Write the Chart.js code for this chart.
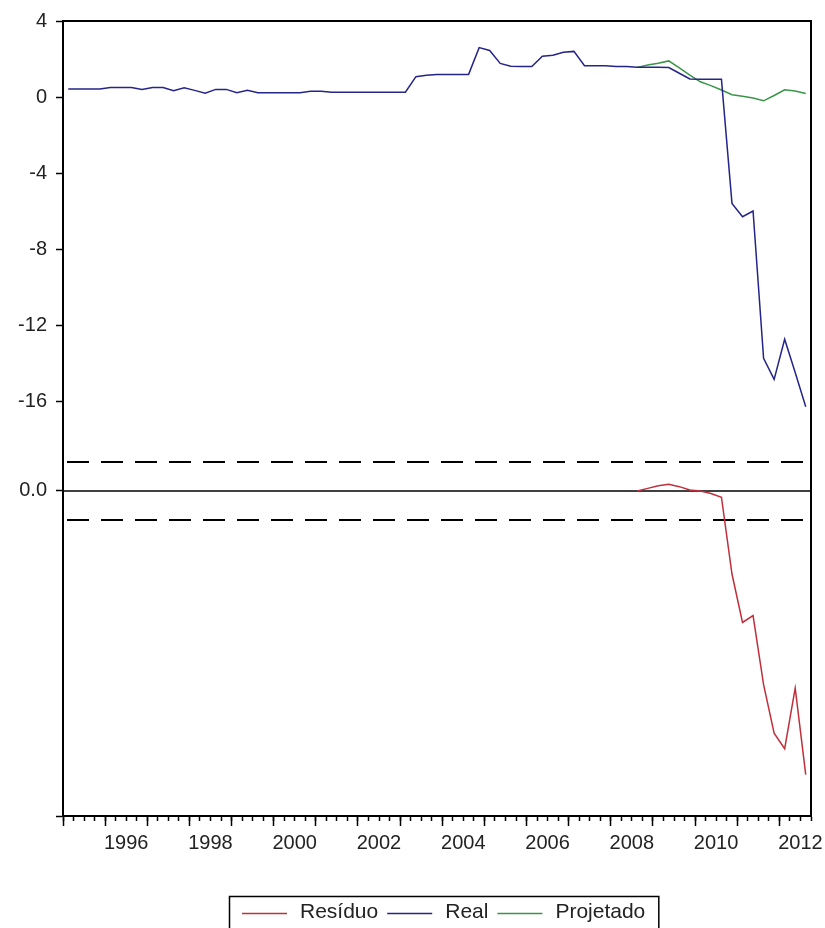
<!DOCTYPE html>
<html>
<head>
<meta charset="utf-8">
<title>Resíduo, Real e Projetado</title>
<script src="https://cdn.jsdelivr.net/npm/chart.js@4.4.1/dist/chart.umd.min.js"></script>
<style>
  html, body { margin: 0; padding: 0; background: #fff; }
  #wrap { position: relative; width: 825px; height: 928px; }
</style>
</head>
<body>
<div id="wrap"><canvas id="chart"></canvas></div>
<script>
// Quarterly data, 1995Q1 .. 2012Q3
const firstYear = 1995;

const realValues = [
    0.42, 0.42, 0.42, 0.42,  0.50, 0.50, 0.50, 0.40,    // 1995-1996
    0.50, 0.50, 0.33, 0.48,  0.35, 0.20, 0.40, 0.40,    // 1997-1998
    0.23, 0.35, 0.23, 0.23,  0.23, 0.23, 0.23, 0.30,    // 1999-2000
    0.30, 0.25, 0.25, 0.25,  0.25, 0.25, 0.25, 0.25,    // 2001-2002
    0.25, 1.07, 1.15, 1.19,  1.19, 1.19, 1.19, 2.60,    // 2003-2004
    2.45, 1.77, 1.62, 1.60,  1.60, 2.15, 2.20, 2.35,    // 2005-2006
    2.40, 1.65, 1.65, 1.65,  1.60, 1.60, 1.56, 1.56,    // 2007-2008
    1.56, 1.55, 1.25, 0.95,  0.93, 0.93, 0.93, -5.60,   // 2009-2010
    -6.30, -6.00, -13.75, -14.86,  -12.75, -14.50, -16.30 // 2011-2012Q3
];

// forecast and residual start in 2008Q3
const projStart = '2008Q3';
const projValues = [
    1.56, 1.68, 1.78, 1.90, 1.53, 1.15, 0.80, 0.60, 0.37,
    0.12, 0.04, -0.05, -0.20, 0.08, 0.38, 0.32, 0.18
];
const residValues = [
    0.00, 0.15, 0.30, 0.39, 0.25, 0.06, 0.00, -0.15, -0.36,
    -4.80, -7.60, -7.20, -11.20, -14.00, -14.90, -11.40, -16.40
];
const residStdErr = 1.68;

const realTicks = [4, 0, -4, -8, -12, -16];
const residTicks = [0];
const yearLabels = ['1996', '1998', '2000', '2002', '2004', '2006', '2008', '2010', '2012'];

const realRange = [-37.84, 4];
const residRange = [-18.79, 27.17];

const nQuarters = realValues.length;
const quarterIndex = label => (parseInt(label.slice(0, 4)) - firstYear) * 4 + parseInt(label.slice(5)) - 1;
const toPoints = (values, start) => values.map((v, i) => ({ x: start + i + 0.5, y: v }));
const projFirst = quarterIndex(projStart);

const fontFamily = "'Liberation Sans', Arial, Helvetica, sans-serif";
Chart.defaults.font.family = fontFamily;
Chart.defaults.color = '#222';

const axisBorder = { display: true, color: '#000', width: 2 };

// the residual axis has no width of its own; let its "0.0" label use the left margin
const residLabelArea = {
    id: 'residLabelArea',
    afterLayout(chart) {
        chart.scales.yr.left = 0;
    }
};

// box around the plot area
const framePlugin = {
    id: 'frame',
    afterDatasetsDraw(chart) {
        const { ctx, chartArea: a } = chart;
        ctx.save();
        ctx.strokeStyle = '#000';
        ctx.lineWidth = 2;
        ctx.strokeRect(a.left, a.top, a.right - a.left, a.bottom - a.top);
        ctx.restore();
    }
};

// EViews style legend: one row inside a box
const boxLegendPlugin = {
    id: 'boxLegend',
    afterDraw(chart) {
        const { ctx } = chart;
        const items = chart.data.datasets.filter(d => !d.legendHidden);
        const lineLen = 45, gapText = 13, gapItem = 9, padX = 13;
        const centerX = 444, top = 896, midY = 912;

        ctx.save();
        ctx.font = `21px ${fontFamily}`;
        const widths = items.map(d => ctx.measureText(d.label).width);
        const inner = widths.reduce((s, w) => s + lineLen + gapText + w, 0) + gapItem * (items.length - 1);
        const boxW = inner + padX * 2;
        const left = Math.round(centerX - boxW / 2);

        ctx.strokeStyle = '#000';
        ctx.lineWidth = 1.5;
        ctx.strokeRect(left + 0.5, top + 0.5, boxW, 60);

        let x = left + padX;
        items.forEach((d, i) => {
            ctx.strokeStyle = d.borderColor;
            ctx.lineWidth = 1.5;
            ctx.beginPath();
            ctx.moveTo(x, midY + 1.5);
            ctx.lineTo(x + lineLen, midY + 1.5);
            ctx.stroke();
            x += lineLen + gapText;
            ctx.fillStyle = '#222';
            ctx.textBaseline = 'middle';
            ctx.textAlign = 'left';
            ctx.fillText(d.label, x, midY);
            x += widths[i] + gapItem;
        });
        ctx.restore();
    }
};

new Chart(document.getElementById('chart'), {
    type: 'line',
    data: {
        datasets: [
            {
                label: 'Resíduo',
                yAxisID: 'yr',
                data: toPoints(residValues, projFirst),
                borderColor: '#c0303c',
                borderWidth: 1.5,
                pointRadius: 0
            },
            {
                label: 'Real',
                yAxisID: 'y',
                data: toPoints(realValues, 0),
                borderColor: '#24248a',
                borderWidth: 1.5,
                pointRadius: 0
            },
            {
                label: 'Projetado',
                yAxisID: 'y',
                data: toPoints(projValues, projFirst),
                borderColor: '#3a9646',
                borderWidth: 1.5,
                pointRadius: 0
            },
            {
                label: 'zero',
                legendHidden: true,
                yAxisID: 'yr',
                data: [{ x: 0, y: 0 }, { x: nQuarters, y: 0 }],
                borderColor: '#000',
                borderWidth: 1.5,
                pointRadius: 0
            },
            {
                label: '+se',
                legendHidden: true,
                yAxisID: 'yr',
                data: [{ x: 0, y: residStdErr }, { x: nQuarters, y: residStdErr }],
                borderColor: '#000',
                borderWidth: 2,
                borderDash: [22, 12],
                borderDashOffset: -4,
                pointRadius: 0
            },
            {
                label: '-se',
                legendHidden: true,
                yAxisID: 'yr',
                data: [{ x: 0, y: -residStdErr }, { x: nQuarters, y: -residStdErr }],
                borderColor: '#000',
                borderWidth: 2,
                borderDash: [22, 12],
                borderDashOffset: -4,
                pointRadius: 0
            }
        ]
    },
    options: {
        responsive: true,
        maintainAspectRatio: false,
        animation: false,
        devicePixelRatio: 1,
        layout: { padding: { top: 21, right: 14, bottom: 72, left: 0 } },
        plugins: {
            legend: { display: false },
            tooltip: { enabled: false }
        },
        scales: {
            x: {
                type: 'linear',
                position: 'bottom',
                weight: 0,
                min: 0,
                max: nQuarters,
                afterBuildTicks: s => { s.ticks = Array.from({ length: nQuarters + 1 }, (_, i) => ({ value: i })); },
                afterFit: s => { s.height = 0; },
                grid: { drawOnChartArea: false, tickLength: 5, tickWidth: 1.5, tickColor: '#000' },
                border: axisBorder,
                ticks: { display: false }
            },
            xYear: {
                type: 'linear',
                position: 'bottom',
                weight: 1,
                min: 0,
                max: nQuarters,
                afterBuildTicks: s => { s.ticks = Array.from({ length: 18 }, (_, i) => ({ value: i * 4 })); },
                afterFit: s => { s.height = 40; },
                grid: { drawOnChartArea: false, tickLength: 10, tickWidth: 1.5, tickColor: '#000' },
                border: axisBorder,
                ticks: {
                    autoSkip: false,
                    maxRotation: 0,
                    font: { size: 20 },
                    color: '#222',
                    padding: 5,
                    labelOffset: 21,
                    callback: v => {
                        const yr = String(firstYear + v / 4);
                        return yearLabels.includes(yr) ? yr : '';
                    }
                }
            },
            y: {
                type: 'linear',
                position: 'left',
                weight: 1,
                min: realRange[0],
                max: realRange[1],
                afterBuildTicks: s => { s.ticks = [...realTicks, realRange[0]].map(v => ({ value: v })); },
                afterFit: s => { s.width = 63; },
                grid: { drawOnChartArea: false, tickLength: 7, tickWidth: 1.5, tickColor: '#000' },
                border: axisBorder,
                ticks: {
                    autoSkip: false,
                    font: { size: 20 },
                    color: '#222',
                    padding: 9,
                    callback: v => realTicks.includes(v) ? String(v) : ''
                }
            },
            yr: {
                type: 'linear',
                position: 'left',
                weight: 0,
                min: residRange[0],
                max: residRange[1],
                afterBuildTicks: s => { s.ticks = residTicks.map(v => ({ value: v })); },
                afterFit: s => { s.width = 0; },
                grid: { drawOnChartArea: false, tickLength: 7, tickWidth: 1.5, tickColor: '#000' },
                border: axisBorder,
                ticks: { autoSkip: false, font: { size: 20 }, color: '#222', padding: 9, callback: v => v.toFixed(1) }
            }
        }
    },
    plugins: [residLabelArea, framePlugin, boxLegendPlugin]
});
</script>
</body>
</html>
